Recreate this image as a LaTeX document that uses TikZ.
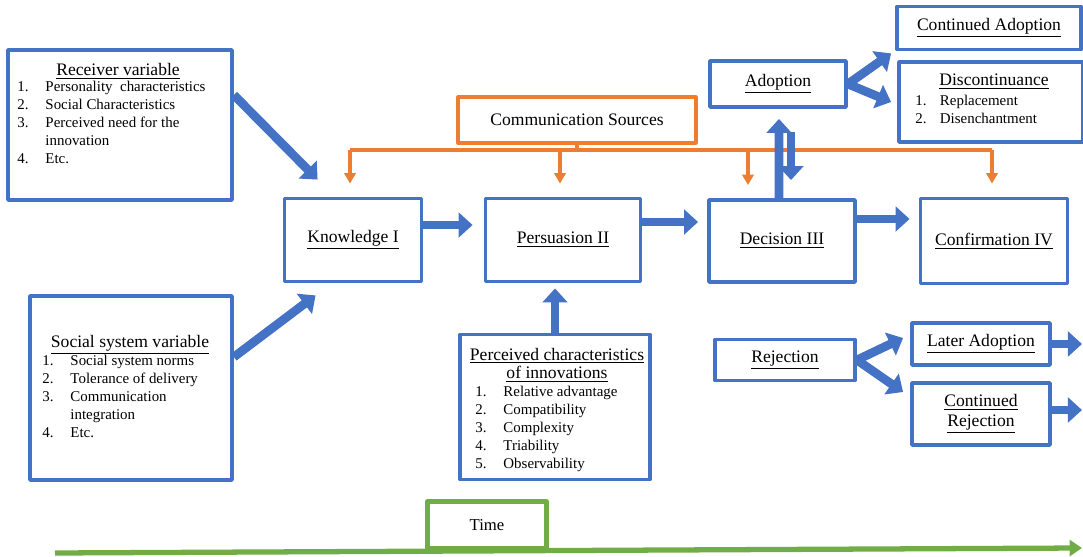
\documentclass[tikz,border=0pt]{standalone}
\usepackage{fontspec}
\setmainfont{Liberation Serif}
\usetikzlibrary{arrows.meta,positioning}
\definecolor{ppblue}{HTML}{4472C4}
\definecolor{pporange}{HTML}{ED7D31}
\definecolor{ppgreen}{HTML}{70AD47}
\newcommand{\itemfont}{\fontsize{8.5}{10.2}\selectfont}
\begin{document}
\begin{tikzpicture}[x=0.02cm,y=-0.02cm,line join=round,font=\fontsize{10}{12}\selectfont,
	box/.style={draw=ppblue,line width=2.2pt,inner sep=0pt,align=center},
	obox/.style={draw=pporange,line width=1.8pt,inner sep=0pt},
	fat/.style={ppblue,line width=5pt,-{Triangle[length=8pt,width=14pt]}},
	feed/.style={pporange,line width=1.8pt,-{Triangle[length=6pt,width=6.5pt]}},
	lst/.style={anchor=north west,inner sep=0pt,font=\itemfont}]
	\useasboundingbox (0,0) rectangle (1083,557);
	% stage boxes
	\node[box,minimum width=2.74cm,minimum height=1.66cm] (know) at (353,240) {\underline{Knowledge I}};
	\node[box,minimum width=3.1cm,minimum height=1.66cm] (pers) at (563,240) {\underline{Persuasion II}};
	\node[box,minimum width=2.92cm,minimum height=1.64cm] (deci) at (782,241) {\underline{Decision III}};
	\node[box,minimum width=2.94cm,minimum height=1.7cm] (conf) at (994,241) {\underline{Confirmation IV}};
	% variable boxes
	\node[box,minimum width=4.48cm,minimum height=3cm] (recv) at (120,125) {};
	\node (recvT) at (118,71) {\underline{Receiver variable}};
	\node[lst] (recvL) at (17,79) {\begin{tabular}{@{}p{16pt}@{}l@{}}
		1. & Personality\ \ characteristics\\
		2. & Social Characteristics\\
		3. & Perceived need for the\\
		   & innovation\\
		4. & Etc.
	\end{tabular}};
	\node[box,minimum width=4.04cm,minimum height=3.68cm] (soc) at (131,388) {};
	\node (socT) at (130,345) {\underline{Social system variable}};
	\node[lst] (socL) at (42,353) {\begin{tabular}{@{}p{16pt}@{}l@{}}
		1. & Social system\ norms\\
		2. & Tolerance of delivery\\
		3. & Communication\\
		   & integration\\
		4. & Etc.
	\end{tabular}};
	\node[box,minimum width=3.8cm,minimum height=2.9cm] (perc) at (555,407) {};
	\node[align=center,font=\fontsize{10}{10.4}\selectfont] (percT) at (557,365) {\underline{Perceived characteristics}\\\underline{of innovations}};
	\node[lst] (percL) at (475,384) {\begin{tabular}{@{}p{16pt}@{}l@{}}
		1. & Relative\ advantage\\
		2. & Compatibility\\
		3. & Complexity\\
		4. & Triability\\
		5. & Observability
	\end{tabular}};
	% outcome boxes
	\node[box,minimum width=2.72cm,minimum height=0.92cm] (adopt) at (778,84) {\underline{Adoption}};
	\node[box,minimum width=3.68cm,minimum height=0.86cm] (contad) at (989,28) {\underline{Continued Adoption}};
	\node[box,minimum width=3.68cm,minimum height=1.6cm] (disc) at (991,102) {};
	\node (discT) at (994,82) {\underline{Discontinuance}};
	\node[lst] (discL) at (915,93) {\begin{tabular}{@{}p{14pt}@{}l@{}}
		1. & Replacement\\
		2. & Disenchantment
	\end{tabular}};
	\node[box,minimum width=2.8cm,minimum height=0.82cm] (rej) at (785,360) {\underline{Rejection}};
	\node[box,minimum width=2.76cm,minimum height=0.84cm] (later) at (981,344) {\underline{Later Adoption}};
	\node[box,minimum width=2.76cm,minimum height=1.24cm,font=\fontsize{10}{11.5}\selectfont] (contrej) at (981,414) {\underline{Continued}\\\underline{Rejection}};
	% communication sources
	\node[obox,minimum width=4.76cm,minimum height=0.92cm] (comm) at (577,120) {Communication Sources};
	\path (350,150) coordinate (busL) (992,150) coordinate (busR);
	\draw[pporange,line width=1.8pt] (busL) -- (busR);
	\draw[pporange,line width=1.8pt] (comm.south) -- (comm.south |- busL);
	\foreach \n/\s in {know/-0.06,pers/-0.06,deci/-0.68,conf/-0.04}{
		\path ([xshift=\s cm]\n.north) coordinate (top\n);
		\draw[feed,shorten >=0.26cm] (busL -| top\n) -- (top\n);
	}
	% main flow
	\draw[fat,shorten >=0.22cm] ([yshift=0.3cm]know.east) -- ([yshift=0.3cm]know.east -| pers.west);
	\draw[fat,shorten >=0.18cm] ([yshift=0.36cm]pers.east) -- ([yshift=0.36cm]pers.east -| deci.west);
	\draw[fat,shorten >=0.18cm] ([yshift=0.44cm]deci.east) -- ([yshift=0.44cm]deci.east -| conf.west);
	\draw[fat] ([yshift=0.6cm]recv.east) -- ([xshift=0.7cm,yshift=0.34cm]know.north west);
	\draw[fat] ([yshift=0.62cm]soc.east) -- ([xshift=0.66cm,yshift=-0.24cm]know.south west);
	\draw[fat,shorten >=0.1cm] (perc.north) -- (perc.north |- pers.south);
	% decision outcomes
	\draw[fat] ([xshift=-0.06cm]deci.north) -- ([xshift=0.02cm,yshift=-0.2cm]adopt.south);
	\coordinate (dn) at (791,132);
	\draw[fat,shorten >=0.36cm] (dn) -- (dn |- deci.north);
	\draw[fat] (adopt.east) -- ([xshift=-0.08cm,yshift=-0.04cm]contad.south west);
	\draw[fat] (adopt.east) -- ([xshift=-0.12cm]disc.west);
	\draw[fat] (rej.east) -- ([xshift=-0.14cm,yshift=0.12cm]later.west);
	\draw[fat] (rej.east) -- ([xshift=-0.14cm,yshift=0.44cm]contrej.west);
	\path (1082,344) coordinate (laterOut) (1082,410) coordinate (rejOut);
	\draw[fat] (later.east) -- (laterOut);
	\draw[fat] (later.east |- rejOut) -- (rejOut);
	% time
	\path (55,553) coordinate (tA) (1082,548) coordinate (tB);
	\draw[ppgreen,line width=3pt,-{Triangle[length=7pt,width=9pt]}] (tA) -- (tB);
	\node[draw=ppgreen,line width=2.5pt,fill=white,minimum width=2.38cm,minimum height=0.94cm,font=\fontsize{9.5}{11}\selectfont] (time) at (487,525) {Time};
\end{tikzpicture}
\end{document}
